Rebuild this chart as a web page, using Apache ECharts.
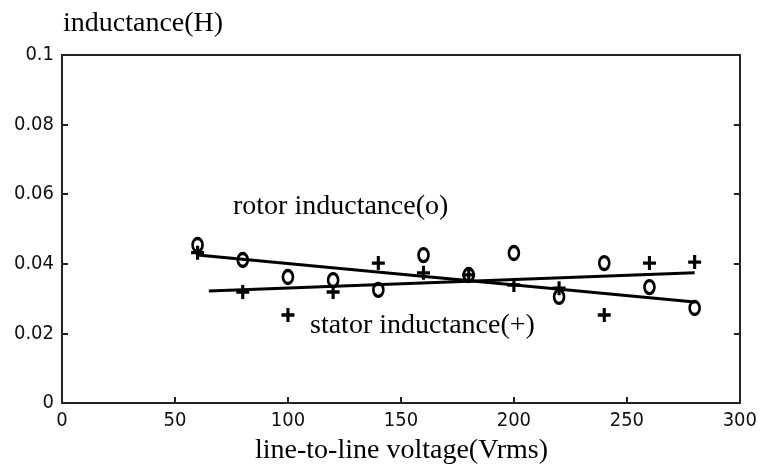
<!DOCTYPE html>
<html>
<head>
<meta charset="utf-8">
<script src="https://cdn.jsdelivr.net/npm/echarts@6/dist/echarts.min.js"></script>
<style>html,body{margin:0;padding:0;background:#fff}#c{width:760px;height:466px}</style>
</head>
<body>
<div id="c"></div>
<script>
const voltage = [60, 80, 100, 120, 140, 160, 180, 200, 220, 240, 260, 280];
const rotorInductance = [0.0454, 0.0411, 0.0362, 0.0353, 0.0325, 0.0425, 0.0368, 0.0431, 0.0305, 0.0402, 0.0333, 0.0273];
const statorInductance = [0.0432, 0.0319, 0.0253, 0.0319, 0.0402, 0.0374, 0.0368, 0.0339, 0.0330, 0.0253, 0.0402, 0.0405];
const rotorFitX = [60, 280];
const rotorFitY = [0.0425, 0.0290];
const statorFitX = [65, 280];
const statorFitY = [0.0322, 0.0374];
const xTicks = [0, 50, 100, 150, 200, 250, 300];
const yTicks = [0, 0.02, 0.04, 0.06, 0.08, 0.1];

const pairs = (xs, ys) => xs.map((x, i) => [x, ys[i]]);
const plusPath = 'path://M3.8,0h2.4v3.8h3.8v2.4h-3.8v3.8h-2.4v-3.8h-3.8v-2.4h3.8z';
const tickFont = {fontFamily: '"DejaVu Sans Condensed","DejaVu Sans",sans-serif', fontSize: 20, color: '#111'};
const serif = '"Liberation Serif","Times New Roman",serif';
const axisLine = {show: true, onZero: false, lineStyle: {color: '#222', width: 2}};
const innerTick = {show: true, inside: true, length: 6, lineStyle: {color: '#222', width: 2}};

const chart = echarts.init(document.getElementById('c'), null, {renderer: 'canvas'});
chart.setOption({
  animation: false,
  backgroundColor: '#fff',
  grid: {left: 62, right: 18, top: 55, bottom: 63, containLabel: false},
  xAxis: [{
    type: 'value', min: 0, max: 300, interval: 50, position: 'bottom',
    axisLine: axisLine, axisTick: innerTick,
    axisLabel: Object.assign({margin: 8, formatter: v => xTicks.includes(v) ? String(v) : ''}, tickFont),
    splitLine: {show: false}
  }, {
    type: 'value', min: 0, max: 300, interval: 50, position: 'top',
    axisLine: axisLine, axisTick: {show: false}, axisLabel: {show: false}, splitLine: {show: false}
  }],
  yAxis: [{
    type: 'value', min: 0, max: 0.1, interval: 0.02, position: 'left',
    axisLine: axisLine, axisTick: innerTick,
    axisLabel: Object.assign({margin: 8, formatter: v => {
      const t = yTicks.find(y => Math.abs(y - v) < 1e-9);
      return t === undefined ? '' : (t === 0 ? '0' : String(+t.toFixed(2)));
    }}, tickFont),
    splitLine: {show: false}
  }, {
    type: 'value', min: 0, max: 0.1, interval: 0.02, position: 'right',
    axisLine: axisLine, axisTick: innerTick, axisLabel: {show: false}, splitLine: {show: false}
  }],
  series: [
    {type: 'line', data: pairs(rotorFitX, rotorFitY), showSymbol: false, lineStyle: {color: '#000', width: 3}, z: 2},
    {type: 'line', data: pairs(statorFitX, statorFitY), showSymbol: false, lineStyle: {color: '#000', width: 3}, z: 2},
    {type: 'scatter', data: pairs(voltage, rotorInductance), symbol: 'circle', symbolSize: [10, 13],
      itemStyle: {color: 'rgba(0,0,0,0)', borderColor: '#000', borderWidth: 3, opacity: 1}, z: 3},
    {type: 'scatter', data: pairs(voltage, statorInductance), symbol: plusPath, symbolSize: [13, 14],
      itemStyle: {color: '#000', opacity: 1}, z: 3}
  ],
  graphic: [
    {type: 'text', left: 63, top: 10, style: {text: 'inductance(H)', font: '28px ' + serif, fill: '#000'}},
    {type: 'text', left: 233, top: 193, style: {text: 'rotor inductance(o)', font: '28px ' + serif, fill: '#000'}},
    {type: 'text', left: 310, top: 312, style: {text: 'stator inductance(+)', font: '28px ' + serif, fill: '#000'}},
    {type: 'text', left: 255, top: 437, style: {text: 'line-to-line voltage(Vrms)', font: '28px ' + serif, fill: '#000'}}
  ]
});
</script>
</body>
</html>
